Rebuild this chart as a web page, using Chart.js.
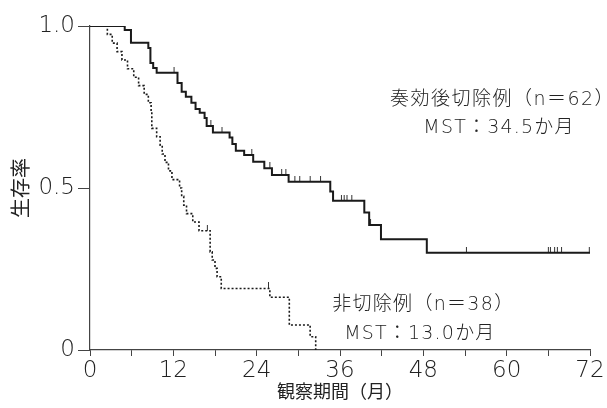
<!DOCTYPE html>
<html>
<head>
<meta charset="utf-8">
<script src="https://cdn.jsdelivr.net/npm/chart.js@4.4.1/dist/chart.umd.min.js"></script>
<style>
  html, body { margin: 0; padding: 0; background: #fff; }
  #wrap { width: 607px; height: 408px; }
</style>
</head>
<body>
<div id="wrap"><canvas id="km"></canvas></div>
<script>
// 奏効後切除例 (n=62) - step times (months) and survival
const resectedTime = [0, 5.0, 5.9, 8.4, 8.7, 9.1, 9.6, 12.6, 13.2, 13.8, 14.6, 15.2, 15.8, 16.5, 16.8, 17.7,
    20.1, 20.5, 21.0, 22.2, 23.5, 25.1, 26.2, 28.6, 34.6, 35.0, 39.5, 40.2, 41.9, 48.5, 72];
const resectedSurv = [1.0, 0.988, 0.948, 0.932, 0.886, 0.870, 0.856, 0.824, 0.797, 0.782, 0.763, 0.744, 0.732, 0.716, 0.691, 0.671,
    0.656, 0.636, 0.615, 0.602, 0.581, 0.561, 0.540, 0.519, 0.489, 0.461, 0.424, 0.386, 0.342, 0.300, 0.300];
const resectedCensor = [12.1, 17.4, 19.0, 23.3, 25.9, 27.6, 28.2, 29.5, 30.2, 31.7, 33.2, 36.2, 36.6, 37.0, 37.7,
    40.4, 54.2, 66.0, 66.3, 66.9, 67.3, 67.9, 71.9];

// 非切除例 (n=38)
const nonTime = [0, 2.5, 3.2, 3.9, 4.6, 5.4, 6.3, 7.0, 7.8, 8.4, 8.8, 8.9, 9.6, 10.1, 10.4, 10.8, 11.3, 11.8, 12.9, 13.2,
    13.5, 13.9, 14.8, 15.7, 17.3, 17.6, 18.0, 18.3, 18.9, 25.9, 28.7, 31.7, 32.5];
const nonSurv = [1.0, 0.974, 0.947, 0.921, 0.895, 0.868, 0.842, 0.816, 0.789, 0.763, 0.737, 0.684, 0.658, 0.632, 0.605, 0.579, 0.553, 0.526, 0.500, 0.474,
    0.447, 0.421, 0.395, 0.368, 0.303, 0.278, 0.252, 0.226, 0.190, 0.163, 0.077, 0.041, 0];
const nonCensor = [16.9, 25.7];

const xTicks = [0, 12, 24, 36, 48, 60, 72];
const yTicks = [0, 0.5, 1.0];

const FONT = "'DejaVu Sans', 'Noto Sans CJK JP', sans-serif";
const CJK = "'Noto Sans CJK JP', sans-serif";
const INK = '#222';

function toPoints(ts, ss) {
    return ts.map((t, i) => ({ x: t, y: ss[i] }));
}

// survival level of a curve at time t (used to sit censor ticks on the curve)
function levelAt(ts, ss, t) {
    let v = ss[0];
    for (let i = 0; i < ts.length; i++) {
        if (ts[i] <= t) v = ss[i];
    }
    return v;
}

// little vertical tick above the point
function censorMark() {
    const c = document.createElement('canvas');
    c.width = 3; c.height = 12;
    const g = c.getContext('2d');
    g.strokeStyle = '#333';
    g.lineWidth = 1;
    g.beginPath();
    g.moveTo(1.5, 0);
    g.lineTo(1.5, 6);
    g.stroke();
    return c;
}
const mark = censorMark();

const notes = [
    { text: '奏効後切除例（n＝62）', x: 59.4, y: 0.772, sp: 1.5 },
    { text: 'MST：34.5か月', x: 58.9, y: 0.685, sp: 1.2 },
    { text: '非切除例（n＝38）', x: 48.0, y: 0.139, sp: 1.3 },
    { text: 'MST：13.0か月', x: 47.5, y: 0.05, sp: 1.2 }
];

const notePlugin = {
    id: 'notes',
    afterDraw(chart) {
        const ctx = chart.ctx;
        const xs = chart.scales.x, ys = chart.scales.y;
        ctx.save();
        ctx.font = '200 19px ' + FONT;
        ctx.fillStyle = INK;
        ctx.textAlign = 'center';
        ctx.textBaseline = 'middle';
        for (const n of notes) {
            ctx.letterSpacing = n.sp + 'px';
            ctx.fillText(n.text, xs.getPixelForValue(n.x), ys.getPixelForValue(n.y));
        }
        ctx.restore();
    }
};

new Chart(document.getElementById('km'), {
    type: 'line',
    data: {
        datasets: [
            {
                data: toPoints(resectedTime, resectedSurv),
                stepped: 'before',
                borderColor: '#1a1a1a',
                borderWidth: 2,
                pointRadius: 0,
                fill: false
            },
            {
                data: toPoints(nonTime, nonSurv),
                stepped: 'before',
                borderColor: '#1a1a1a',
                borderWidth: 1.6,
                borderDash: [2, 2],
                pointRadius: 0,
                fill: false
            },
            {
                type: 'scatter',
                data: resectedCensor.map(t => ({ x: t, y: levelAt(resectedTime, resectedSurv, t) })),
                pointStyle: mark,
                showLine: false
            },
            {
                type: 'scatter',
                data: nonCensor.map(t => ({ x: t, y: levelAt(nonTime, nonSurv, t) })),
                pointStyle: mark,
                showLine: false
            }
        ]
    },
    options: {
        responsive: true,
        maintainAspectRatio: false,
        animation: false,
        layout: { padding: { left: 8, right: 17, top: 26, bottom: 0 } },
        plugins: {
            legend: { display: false },
            tooltip: { enabled: false }
        },
        scales: {
            x: {
                type: 'linear',
                min: 0,
                max: 72,
                afterFit(scale) { scale.height = 58; },
                afterBuildTicks(scale) {
                    const t = [];
                    for (let v = 0; v <= 72; v += 6) t.push({ value: v });
                    scale.ticks = t;
                },
                border: { display: true, color: '#444', width: 1.2 },
                grid: { drawOnChartArea: false, drawTicks: true, tickLength: 6, color: '#444' },
                ticks: {
                    autoSkip: false,
                    maxRotation: 0,
                    padding: 1,
                    color: INK,
                    font: { family: FONT, size: 23, weight: 200 },
                    callback: v => xTicks.includes(v) ? String(v) : ''
                },
                title: {
                    display: true,
                    text: '観察期間（月）',
                    color: INK,
                    font: { family: CJK, size: 18 },
                    padding: { top: 0, bottom: 6 }
                }
            },
            y: {
                min: 0,
                max: 1,
                afterFit(scale) { scale.width = 82; },
                afterBuildTicks(scale) {
                    scale.ticks = yTicks.map(v => ({ value: v }));
                },
                border: { display: true, color: '#444', width: 1.2 },
                grid: { drawOnChartArea: false, drawTicks: true, tickLength: 12, color: '#444' },
                ticks: {
                    padding: 3,
                    color: INK,
                    font: { family: FONT, size: 23, weight: 200 },
                    callback: v => v === 0 ? '0' : v.toFixed(1)
                },
                title: {
                    display: true,
                    text: '生存率',
                    color: INK,
                    font: { family: CJK, size: 20 },
                    padding: { top: 0, bottom: 0 }
                }
            }
        }
    },
    plugins: [notePlugin]
});
</script>
</body>
</html>
